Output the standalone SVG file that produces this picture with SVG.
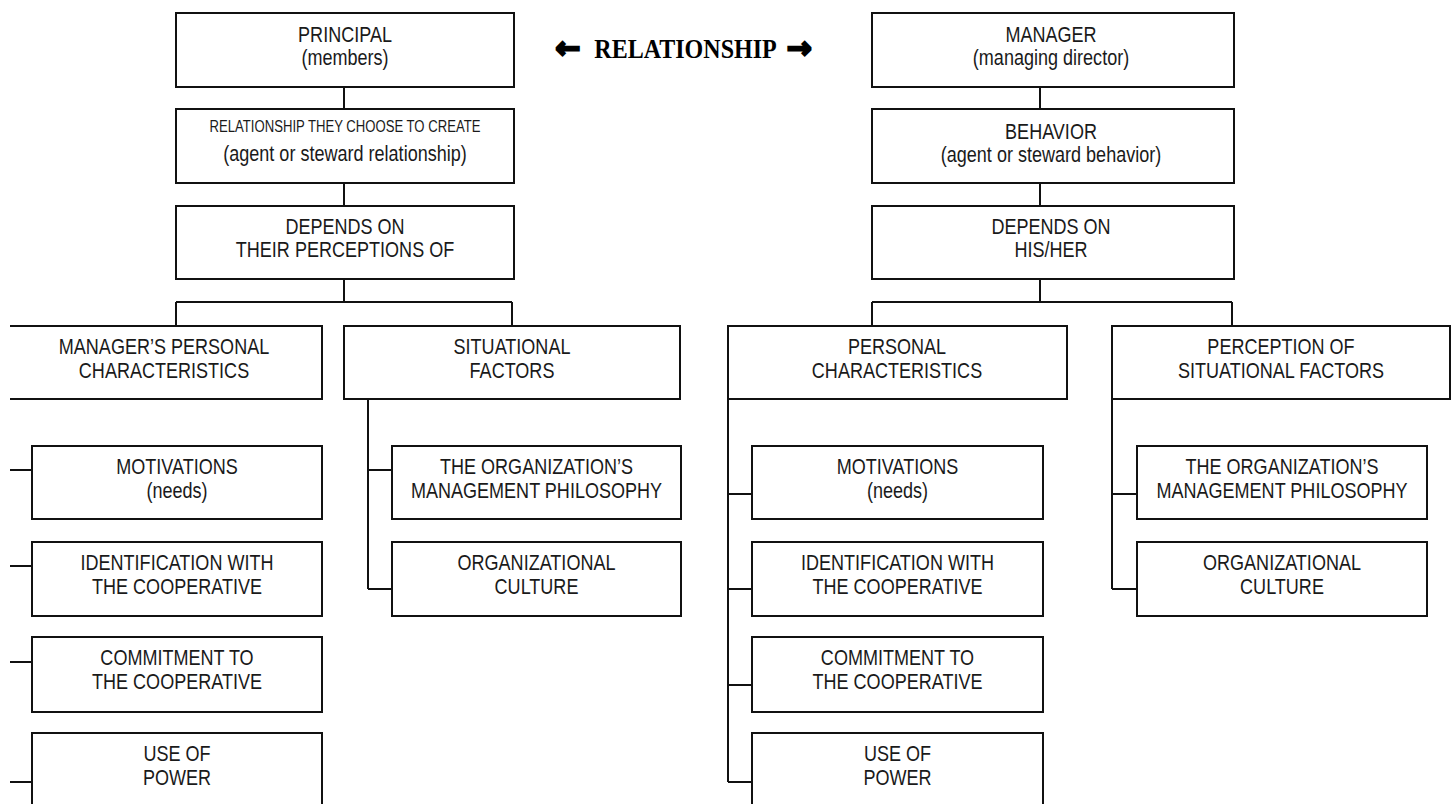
<svg xmlns="http://www.w3.org/2000/svg" width="1455" height="804" viewBox="0 0 1455 804">
<style>
.box{fill:#fff;stroke:#111;stroke-width:2}
.open{fill:none;stroke:#111;stroke-width:2}
#connectors path{fill:none;stroke:#111;stroke-width:2}
.t{font-family:"Liberation Sans",Arial,sans-serif;font-size:22px;fill:#1a1a1a;text-anchor:middle}
.s{font-size:16px}
.hdr{font-family:"Liberation Serif","Times New Roman",serif;font-weight:bold;font-size:27px;fill:#000;text-anchor:middle}
.arr{font-family:"DejaVu Sans",sans-serif;font-weight:bold;font-size:30px;fill:#000;stroke:#000;stroke-width:2.2;stroke-linejoin:miter;text-anchor:middle}
</style>
<rect width="1455" height="804" fill="#fff"/>

<g id="connectors">
<path d="M344,87V109M344,183V206M344,279V302M176,302H512M176,302V326M512,302V326"/>
<path d="M1040,87V109M1040,183V206M1040,279V302M872,302H1232M872,302V326M1232,302V326"/>
<path d="M10,470H32M10,566H32M10,662H32M10,782H32"/>
<path d="M368,397V589M368,470H392M368,589H392"/>
<path d="M728,399V782M728,494H752M728,589H752M728,685H752M728,782H752"/>
<path d="M1112,399V589M1112,494H1137M1112,589H1137"/>
</g>

<g id="relationship">
<text class="arr" x="568" y="58">←</text>
<text class="hdr" transform="matrix(0.89 0 0 1 685.5 58)">RELATIONSHIP</text>
<text class="arr" x="799" y="58">→</text>
</g>

<g id="principal">
<rect class="box" x="176" y="13" width="338" height="74"/>
<text class="t" transform="matrix(0.82 0 0 1 345 42)">PRINCIPAL</text>
<text class="t" transform="matrix(0.82 0 0 1 345 65)">(members)</text>
</g>
<g id="relationship-choice">
<rect class="box" x="176" y="109" width="338" height="74"/>
<text class="t s" transform="matrix(0.82 0 0 1 345 132)">RELATIONSHIP THEY CHOOSE TO CREATE</text>
<text class="t" transform="matrix(0.82 0 0 1 345 161)">(agent or steward relationship)</text>
</g>
<g id="depends-left">
<rect class="box" x="176" y="206" width="338" height="73"/>
<text class="t" transform="matrix(0.82 0 0 1 345 234)">DEPENDS ON</text>
<text class="t" transform="matrix(0.82 0 0 1 345 257)">THEIR PERCEPTIONS OF</text>
</g>

<g id="manager">
<rect class="box" x="872" y="13" width="362" height="74"/>
<text class="t" transform="matrix(0.82 0 0 1 1051 42)">MANAGER</text>
<text class="t" transform="matrix(0.82 0 0 1 1051 65)">(managing director)</text>
</g>
<g id="behavior">
<rect class="box" x="872" y="109" width="362" height="74"/>
<text class="t" transform="matrix(0.82 0 0 1 1051 139)">BEHAVIOR</text>
<text class="t" transform="matrix(0.82 0 0 1 1051 162)">(agent or steward behavior)</text>
</g>
<g id="depends-right">
<rect class="box" x="872" y="206" width="362" height="73"/>
<text class="t" transform="matrix(0.82 0 0 1 1051 234)">DEPENDS ON</text>
<text class="t" transform="matrix(0.82 0 0 1 1051 257)">HIS/HER</text>
</g>

<g id="managers-personal">
<path class="open" d="M10,326H322V399H10"/>
<text class="t" transform="matrix(0.82 0 0 1 164 354)">MANAGER’S PERSONAL</text>
<text class="t" transform="matrix(0.82 0 0 1 164 378)">CHARACTERISTICS</text>
</g>
<g id="situational">
<rect class="box" x="344" y="326" width="336" height="73"/>
<text class="t" transform="matrix(0.82 0 0 1 512 354)">SITUATIONAL</text>
<text class="t" transform="matrix(0.82 0 0 1 512 378)">FACTORS</text>
</g>
<g id="personal">
<rect class="box" x="728" y="326" width="339" height="73"/>
<text class="t" transform="matrix(0.82 0 0 1 897 354)">PERSONAL</text>
<text class="t" transform="matrix(0.82 0 0 1 897 378)">CHARACTERISTICS</text>
</g>
<g id="perception">
<rect class="box" x="1112" y="326" width="338" height="73"/>
<text class="t" transform="matrix(0.82 0 0 1 1281 354)">PERCEPTION OF</text>
<text class="t" transform="matrix(0.82 0 0 1 1281 378)">SITUATIONAL FACTORS</text>
</g>

<g id="l-motivations">
<rect class="box" x="32" y="446" width="290" height="73"/>
<text class="t" transform="matrix(0.82 0 0 1 177 474)">MOTIVATIONS</text>
<text class="t" transform="matrix(0.82 0 0 1 177 498)">(needs)</text>
</g>
<g id="l-identification">
<rect class="box" x="32" y="542" width="290" height="74"/>
<text class="t" transform="matrix(0.82 0 0 1 177 570)">IDENTIFICATION WITH</text>
<text class="t" transform="matrix(0.82 0 0 1 177 594)">THE COOPERATIVE</text>
</g>
<g id="l-commitment">
<rect class="box" x="32" y="637" width="290" height="75"/>
<text class="t" transform="matrix(0.82 0 0 1 177 665)">COMMITMENT TO</text>
<text class="t" transform="matrix(0.82 0 0 1 177 689)">THE COOPERATIVE</text>
</g>
<g id="l-power">
<path class="open" d="M32,806V733H322V806"/>
<text class="t" transform="matrix(0.82 0 0 1 177 761)">USE OF</text>
<text class="t" transform="matrix(0.82 0 0 1 177 785)">POWER</text>
</g>

<g id="l-philosophy">
<rect class="box" x="392" y="446" width="289" height="73"/>
<text class="t" transform="matrix(0.82 0 0 1 536.5 474)">THE ORGANIZATION’S</text>
<text class="t" transform="matrix(0.82 0 0 1 536.5 498)">MANAGEMENT PHILOSOPHY</text>
</g>
<g id="l-culture">
<rect class="box" x="392" y="542" width="289" height="74"/>
<text class="t" transform="matrix(0.82 0 0 1 536.5 570)">ORGANIZATIONAL</text>
<text class="t" transform="matrix(0.82 0 0 1 536.5 594)">CULTURE</text>
</g>

<g id="r-motivations">
<rect class="box" x="752" y="446" width="291" height="73"/>
<text class="t" transform="matrix(0.82 0 0 1 897.5 474)">MOTIVATIONS</text>
<text class="t" transform="matrix(0.82 0 0 1 897.5 498)">(needs)</text>
</g>
<g id="r-identification">
<rect class="box" x="752" y="542" width="291" height="74"/>
<text class="t" transform="matrix(0.82 0 0 1 897.5 570)">IDENTIFICATION WITH</text>
<text class="t" transform="matrix(0.82 0 0 1 897.5 594)">THE COOPERATIVE</text>
</g>
<g id="r-commitment">
<rect class="box" x="752" y="637" width="291" height="75"/>
<text class="t" transform="matrix(0.82 0 0 1 897.5 665)">COMMITMENT TO</text>
<text class="t" transform="matrix(0.82 0 0 1 897.5 689)">THE COOPERATIVE</text>
</g>
<g id="r-power">
<path class="open" d="M752,806V733H1043V806"/>
<text class="t" transform="matrix(0.82 0 0 1 897.5 761)">USE OF</text>
<text class="t" transform="matrix(0.82 0 0 1 897.5 785)">POWER</text>
</g>

<g id="r-philosophy">
<rect class="box" x="1137" y="446" width="290" height="73"/>
<text class="t" transform="matrix(0.82 0 0 1 1282 474)">THE ORGANIZATION’S</text>
<text class="t" transform="matrix(0.82 0 0 1 1282 498)">MANAGEMENT PHILOSOPHY</text>
</g>
<g id="r-culture">
<rect class="box" x="1137" y="542" width="290" height="74"/>
<text class="t" transform="matrix(0.82 0 0 1 1282 570)">ORGANIZATIONAL</text>
<text class="t" transform="matrix(0.82 0 0 1 1282 594)">CULTURE</text>
</g>
</svg>
